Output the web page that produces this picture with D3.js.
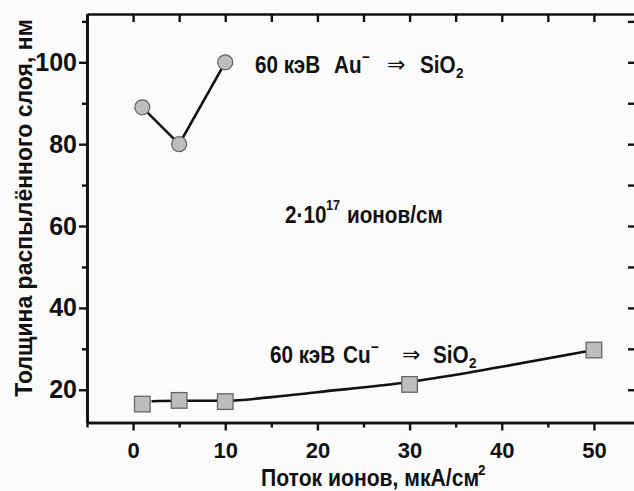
<!DOCTYPE html>
<html>
  <head>
    <meta charset="utf-8">
    <title>Sputtered layer thickness</title>
    <script src="https://d3js.org/d3.v7.min.js"></script>
    <style>
      body { margin: 0; background: #fbfbfb; }
      text { font-family: "Liberation Sans", Arial, sans-serif; font-weight: bold; fill: #111; }
    </style>
  </head>
  <body>
    <div id="chart"></div>
    <script>
      // Au- -> SiO2 (circles)
      const auFlux = [1, 5, 10];
      const auDepth = [89, 80, 100];
      // Cu- -> SiO2 (squares)
      const cuFlux = [1, 5, 10, 30, 50];
      const cuDepth = [16.5, 17.4, 17.1, 21.3, 29.7];
      // fitted curve through the Cu points
      const cuFitFlux = [2, 5, 10, 15, 20, 30, 40, 50];
      const cuFitDepth = [17.2, 17.3, 17.3, 18.2, 19.4, 21.9, 25.6, 29.7];

      const xTicks = [0, 10, 20, 30, 40, 50];
      const xMinor = [-5, 5, 15, 25, 35, 45, 55];
      const yTicks = [20, 40, 60, 80, 100];
      const yMinor = [30, 50, 70, 90, 110];

      const width = 634, height = 491;
      const plotLeft = 87, plotRight = 640, plotTop = 14, plotBottom = 422.5;

      const svg = d3.select("#chart").append("svg")
        .attr("width", width)
        .attr("height", height);

      const x = d3.scaleLinear().domain([-5, 55]).range([plotLeft, plotRight]);
      const y = d3.scaleLinear().domain([12, 111.8]).range([plotBottom, plotTop]);

      function styleAxis(g, size) {
        g.select(".domain").attr("stroke", "#111").attr("stroke-width", 2.6);
        g.selectAll(".tick line").attr("stroke", "#111").attr("stroke-width", 2.4);
        g.selectAll(".tick text").style("font-size", size + "px").attr("fill", "#111");
      }

      // bottom axis
      svg.append("g")
        .attr("transform", "translate(0," + plotBottom + ")")
        .call(d3.axisBottom(x).tickValues(xMinor).tickSize(5).tickFormat("").tickSizeOuter(0))
        .call(styleAxis, 22);
      svg.append("g")
        .attr("transform", "translate(0," + plotBottom + ")")
        .call(d3.axisBottom(x).tickValues(xTicks).tickSize(8).tickPadding(12).tickSizeOuter(0))
        .call(styleAxis, 22);

      // top axis
      svg.append("g")
        .attr("transform", "translate(0," + plotTop + ")")
        .call(d3.axisTop(x).tickValues(xTicks.concat(xMinor)).tickSize(-8).tickFormat("").tickSizeOuter(0))
        .call(styleAxis, 22);

      // left axis
      svg.append("g")
        .attr("transform", "translate(" + plotLeft + ",0)")
        .call(d3.axisLeft(y).tickValues(yMinor).tickSize(5).tickFormat("").tickSizeOuter(0))
        .call(styleAxis, 25);
      svg.append("g")
        .attr("transform", "translate(" + plotLeft + ",0)")
        .call(d3.axisLeft(y).tickValues(yTicks).tickSize(8).tickPadding(2).tickSizeOuter(0))
        .call(styleAxis, 25);

      // right axis
      svg.append("g")
        .attr("transform", "translate(" + plotRight + ",0)")
        .call(d3.axisRight(y).tickValues(yTicks.concat(yMinor)).tickSize(-12).tickFormat("").tickSizeOuter(0))
        .call(styleAxis, 22);

      // lines
      const auData = auFlux.map((f, i) => [f, auDepth[i]]);
      const cuData = cuFlux.map((f, i) => [f, cuDepth[i]]);
      const fitData = cuFitFlux.map((f, i) => [f, cuFitDepth[i]]);

      svg.append("path")
        .datum(auData)
        .attr("fill", "none")
        .attr("stroke", "#111")
        .attr("stroke-width", 2.6)
        .attr("d", d3.line().x(d => x(d[0])).y(d => y(d[1])));

      svg.append("path")
        .datum(fitData)
        .attr("fill", "none")
        .attr("stroke", "#111")
        .attr("stroke-width", 2.6)
        .attr("d", d3.line().curve(d3.curveMonotoneX).x(d => x(d[0])).y(d => y(d[1])));

      svg.selectAll(".au")
        .data(auData)
        .enter()
        .append("circle")
        .attr("cx", d => x(d[0]))
        .attr("cy", d => y(d[1]))
        .attr("r", 7.5)
        .attr("fill", "#bdbdbd")
        .attr("stroke", "#666")
        .attr("stroke-width", 1.3);

      svg.selectAll(".cu")
        .data(cuData)
        .enter()
        .append("rect")
        .attr("x", d => x(d[0]) - 7.8)
        .attr("y", d => y(d[1]) - 7.8)
        .attr("width", 15.6)
        .attr("height", 15.6)
        .attr("fill", "#bdbdbd")
        .attr("stroke", "#666")
        .attr("stroke-width", 1.3);

      // narrow-looking text pieces
      function txt(xp, yp, s, size, opts) {
        opts = opts || {};
        return svg.append("text")
          .attr("transform", "translate(" + xp + "," + yp + ") scale(" + (opts.sx || 0.9) + ",1)")
          .attr("text-anchor", opts.anchor || "start")
          .style("font-size", size + "px")
          .style("font-weight", opts.weight || "bold")
          .style("font-family", opts.family || null)
          .text(s);
      }

      function beamLabel(x0, yb, ion, ionX, arrowX, siX) {
        txt(x0, yb, "60 кэВ", 23);
        txt(ionX, yb, ion, 23);
        txt(ionX + 28, yb - 11, "−", 15);
        txt(arrowX, yb - 1, "⇒", 22, { weight: "normal", family: "DejaVu Sans", sx: 1 });
        txt(siX, yb, "SiO", 23);
        txt(siX + 36, yb + 5, "2", 15);
      }
      beamLabel(255, 73, "Au", 334, 387, 420);
      beamLabel(270, 363, "Cu", 343, 402, 433);

      txt(285, 223, "2·10", 23);
      txt(326, 210, "17", 14);
      txt(347, 223, "ионов/см", 23);

      // axis titles
      txt(261, 486, "Поток ионов, мкА/см", 23.5);
      txt(478, 475, "2", 15);

      svg.append("text")
        .attr("transform", "translate(32,208) rotate(-90)")
        .attr("text-anchor", "middle")
        .style("font-size", "23px")
        .text("Толщина распылённого слоя, нм");
    </script>
  </body>
</html>
